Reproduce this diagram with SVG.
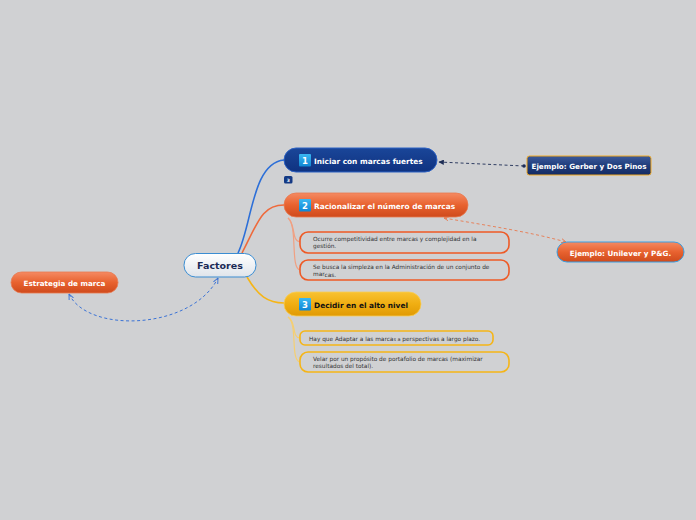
<svg xmlns="http://www.w3.org/2000/svg" width="696" height="520" viewBox="0 0 696 520">
<defs>
<linearGradient id="gOr" x1="0" y1="0" x2="0" y2="1"><stop offset="0" stop-color="#f58a62"/><stop offset="0.5" stop-color="#e8622f"/><stop offset="1" stop-color="#cf4a1c"/></linearGradient>
<linearGradient id="gBl" x1="0" y1="0" x2="0" y2="1"><stop offset="0" stop-color="#1a4699"/><stop offset="1" stop-color="#0f3280"/></linearGradient>
<linearGradient id="gYe" x1="0" y1="0" x2="0" y2="1"><stop offset="0" stop-color="#f8c232"/><stop offset="0.5" stop-color="#f0ae12"/><stop offset="1" stop-color="#e09a04"/></linearGradient>
<linearGradient id="gWh" x1="0" y1="0" x2="0" y2="1"><stop offset="0" stop-color="#ffffff"/><stop offset="1" stop-color="#dfe4ea"/></linearGradient>
<linearGradient id="gNv" x1="0" y1="0" x2="0" y2="1"><stop offset="0" stop-color="#3c5a9a"/><stop offset="0.5" stop-color="#203d7c"/><stop offset="1" stop-color="#132a62"/></linearGradient>
<linearGradient id="gBd" x1="0" y1="0" x2="0" y2="1"><stop offset="0" stop-color="#3ab8f2"/><stop offset="1" stop-color="#0f86d4"/></linearGradient>
<marker id="aBlue" viewBox="0 0 10 10" refX="9" refY="5" markerWidth="6" markerHeight="6" orient="auto-start-reverse"><path d="M0,1 L9,5 L0,9" fill="none" stroke="#3b73d6" stroke-width="1.6"/></marker>
<marker id="aNavy" viewBox="0 0 10 10" refX="9" refY="5" markerWidth="6" markerHeight="6" orient="auto"><path d="M0,0 L10,5 L0,10 Z" fill="#1d2d55"/></marker>
<marker id="dNavy" viewBox="0 0 10 10" refX="5" refY="5" markerWidth="5" markerHeight="5"><circle cx="5" cy="5" r="4" fill="#1d2d55"/></marker>
<marker id="aOr" viewBox="0 0 10 10" refX="9" refY="5" markerWidth="6" markerHeight="6" orient="auto-start-reverse"><path d="M0,1 L9,5 L0,9" fill="none" stroke="#e8794f" stroke-width="1.6"/></marker>
</defs>
<style>
text{font-family:"DejaVu Sans",Verdana,sans-serif}
.t{font-size:7.4px;font-weight:bold;fill:#ffffff}
.s{font-size:5.8px;fill:#333333}
.n{font-size:7.2px;font-weight:bold;fill:#ffffff;text-anchor:middle}
.badge{fill:url(#gBd)}
.subO{fill:none;stroke:#ee5a26;stroke-width:1.6}
.subY{fill:none;stroke:#f5b517;stroke-width:1.6}
</style>
<rect width="696" height="520" fill="#d0d1d3"/>
<g id="connectors" fill="none">
<path d="M238,253 C252,225 252,163 284,160" stroke="#2c6fd8" stroke-width="1.6"/>
<path d="M242,253 C258,222 262,205 284,205" stroke="#ee6a3c" stroke-width="1.6"/>
<path d="M247,277 C258,296 268,303 284,303" stroke="#f5b517" stroke-width="1.6"/>
<path d="M288,218 C296,224 291,241 300,242" stroke="#f0a082" stroke-width="1.2"/>
<path d="M288,218 C298,226 290,268 300,270" stroke="#f0a082" stroke-width="1.2"/>
<path d="M288,317 C297,322 291,337 300,338" stroke="#f5cf72" stroke-width="1.2"/>
<path d="M288,317 C298,324 290,360 300,362" stroke="#f5cf72" stroke-width="1.2"/>
<path d="M524,166 L439,162" stroke="#1d2d55" stroke-width="0.9" stroke-dasharray="3,2.5" marker-start="url(#dNavy)" marker-end="url(#aNavy)"/>
<path d="M444,218 C490,226 530,232 566,242" stroke="#e8794f" stroke-width="0.9" stroke-dasharray="3,2.5" marker-start="url(#aOr)" marker-end="url(#aOr)"/>
<path d="M69,294 C88,334 192,330 218,278" stroke="#3b73d6" stroke-width="1" stroke-dasharray="3,2.5" marker-start="url(#aBlue)" marker-end="url(#aBlue)"/>
</g>
<g id="factores">
<rect x="184" y="253.5" width="72" height="23.5" rx="11.5" fill="url(#gWh)" stroke="#3a8dd2" stroke-width="1"/>
<text x="220" y="269" font-size="9.5" font-weight="bold" fill="#1a2a55" text-anchor="middle">Factores</text>
</g>
<g id="estrategia">
<rect x="11" y="272" width="107" height="21" rx="10.5" fill="url(#gOr)" stroke="#e8794f" stroke-width="0.8"/>
<text x="64.5" y="286" class="n">Estrategia de marca</text>
</g>
<g id="iniciar">
<rect x="284" y="148" width="153" height="24" rx="12" fill="url(#gBl)" stroke="#2d62c4" stroke-width="1"/>
<rect x="299" y="154" width="12" height="12.5" rx="1" class="badge"/>
<text x="305" y="164" font-size="8.5" font-weight="bold" fill="#fff" text-anchor="middle">1</text>
<text x="314" y="163.5" class="t">Iniciar con marcas fuertes</text>
</g>
<g id="badge3">
<rect x="284" y="176" width="8.5" height="7.5" rx="1.5" fill="#143a85"/>
<text x="288.2" y="182" font-size="4.5" font-weight="bold" fill="#fff" text-anchor="middle">3</text>
</g>
<g id="racionalizar">
<rect x="284" y="193" width="184" height="24" rx="12" fill="url(#gOr)" stroke="#e8794f" stroke-width="0.8"/>
<rect x="299" y="199" width="12" height="12.5" rx="1" class="badge"/>
<text x="305" y="209" font-size="8.5" font-weight="bold" fill="#fff" text-anchor="middle">2</text>
<text x="314" y="208.5" class="t">Racionalizar el número de marcas</text>
</g>
<g id="ocurre">
<rect x="300" y="232" width="209" height="21" rx="8" class="subO"/>
<text class="s"><tspan x="313" y="241">Ocurre competitividad entre marcas y complejidad en la</tspan><tspan x="313" y="248">gestión.</tspan></text>
</g>
<g id="sebusca">
<rect x="300" y="260" width="209" height="20" rx="8" class="subO"/>
<text class="s"><tspan x="313" y="269">Se busca la simpleza en la Administración de un conjunto de</tspan><tspan x="313" y="276">mar<tspan dy="1">cas.</tspan></tspan></text>
</g>
<g id="decidir">
<rect x="284" y="292" width="137" height="24" rx="12" fill="url(#gYe)" stroke="#f8cd55" stroke-width="0.8"/>
<rect x="299" y="298" width="12" height="12.5" rx="1" class="badge"/>
<text x="305" y="308" font-size="8.5" font-weight="bold" fill="#fff" text-anchor="middle">3</text>
<text x="314" y="307.5" font-size="7.4px" font-weight="bold" fill="#111">Decidir en el alto nivel</text>
</g>
<g id="adaptar">
<rect x="300" y="331" width="193" height="14" rx="5" class="subY"/>
<text x="309" y="340.5" class="s">Hay que Adaptar a las marca<tspan font-size="5" dy="0.8">s a </tspan><tspan dy="-0.8"> perspectivas a largo plazo.</tspan></text>
</g>
<g id="velar">
<rect x="300" y="352" width="209" height="20" rx="8" class="subY"/>
<text class="s"><tspan x="313" y="360.5">Velar por un propósito de portafolio de marcas (maximizar</tspan><tspan x="313" y="367.5">resultados del total).</tspan></text>
</g>
<g id="gerber">
<rect x="527" y="156" width="124" height="19" rx="2.5" fill="url(#gNv)" stroke="#f0a820" stroke-width="1"/>
<text x="589" y="169" class="n" fill="#e6ebf5">Ejemplo: Gerber y Dos Pinos</text>
</g>
<g id="unilever">
<rect x="557" y="242" width="127" height="20" rx="10" fill="url(#gOr)" stroke="#3a9ee0" stroke-width="1"/>
<text x="620.5" y="255.5" class="n">Ejemplo: Unilever y P&amp;G.</text>
</g>
</svg>
